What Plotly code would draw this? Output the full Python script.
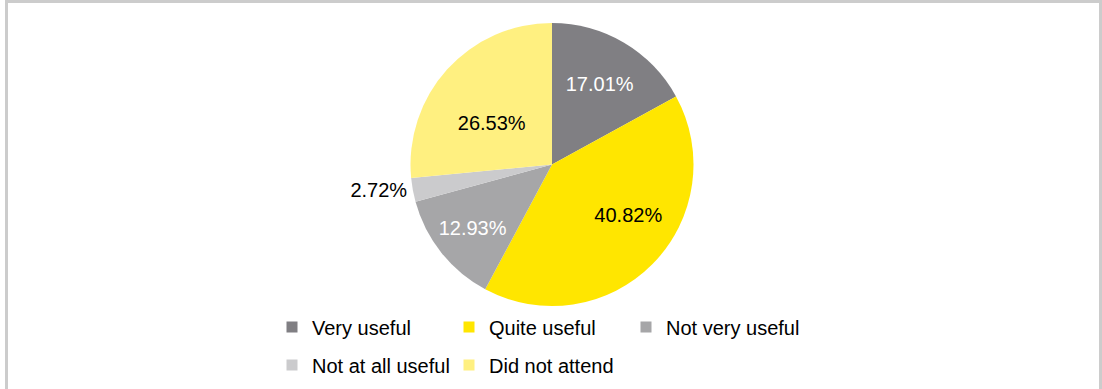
import plotly.graph_objects as go

# Survey responses (share of respondents, %)
categories = ["Very useful", "Quite useful", "Not very useful", "Not at all useful", "Did not attend"]
shares = [17.01, 40.82, 12.93, 2.72, 26.53]
slice_colors = ["#807F83", "#FFE600", "#A6A6A8", "#CBCBCD", "#FFF080"]
label_colors = ["#FFFFFF", "#000000", "#FFFFFF", "#000000", "#000000"]
label_positions = ["inside", "inside", "inside", "outside", "inside"]
# blank padding that nudges two labels towards the rim of their slices
label_indent = [0, 9, 0, 0, 0]
label_drop = [False, False, False, False, True]
legend_rows = ["legend", "legend", "legend", "legend2", "legend2"]

W, H = 1102, 389
M_T, M_B = 23, 83
PLOT_H = H - M_T - M_B
FONT = "Arial, Liberation Sans, sans-serif"


def label_template(indent, drop):
    tpl = "&nbsp;" * indent + "%{value:.2f}%"
    if drop:
        tpl = "&nbsp;<br>" + tpl
    return tpl


fig = go.Figure()

cx = 552 / W
half = 0.14
fig.add_trace(go.Pie(
    labels=categories,
    values=shares,
    sort=False,
    direction="clockwise",
    rotation=0,
    marker=dict(colors=slice_colors, line=dict(width=0)),
    texttemplate=[label_template(n, d) for n, d in zip(label_indent, label_drop)],
    textposition=label_positions,
    insidetextorientation="horizontal",
    textfont=dict(family=FONT, size=20, color=label_colors),
    domain=dict(x=[cx - half, cx + half], y=[0, 1]),
    showlegend=False,
    hoverinfo="label+value",
))

# Legend entries, split over two rows
for name, col, row in zip(categories, slice_colors, legend_rows):
    fig.add_trace(go.Scatter(
        x=[None], y=[None], mode="markers", name=name,
        marker=dict(symbol="square", size=11, color=col, line=dict(width=0)),
        legend=row, showlegend=True, hoverinfo="skip",
    ))


def py_to_paper(py):
    return 1 - (py - M_T) / PLOT_H


legend_style = dict(
    orientation="h",
    xanchor="left",
    yanchor="middle",
    entrywidth=132,
    entrywidthmode="pixels",
    font=dict(family=FONT, size=20, color="#000000"),
    bgcolor="rgba(0,0,0,0)",
    traceorder="normal",
    itemclick=False,
    itemdoubleclick=False,
)

fig.update_layout(
    width=W,
    height=H,
    margin=dict(l=0, r=0, t=M_T, b=M_B, autoexpand=False),
    paper_bgcolor="white",
    plot_bgcolor="white",
    xaxis=dict(visible=False),
    yaxis=dict(visible=False),
    legend=dict(x=272 / W, y=py_to_paper(327), **legend_style),
    legend2=dict(x=272 / W, y=py_to_paper(365), **legend_style),
    shapes=[dict(
        type="rect", xref="paper", yref="paper",
        x0=6.5 / W, x1=1100.5 / W,
        y0=py_to_paper(395), y1=py_to_paper(1.5),
        line=dict(color="#CCCCCC", width=3),
        fillcolor="rgba(0,0,0,0)", layer="below",
    )],
)

fig.write_html("out.html")
